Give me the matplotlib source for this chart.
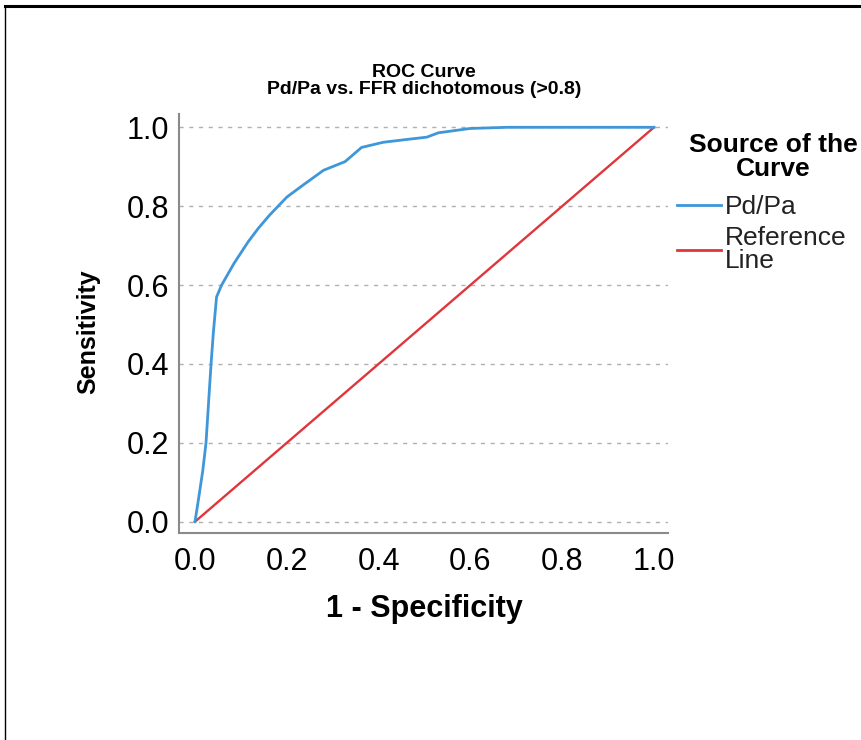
import matplotlib
matplotlib.use("Agg")
import matplotlib.pyplot as plt
from matplotlib.lines import Line2D

# ---- data ----
fpr = [0.0, 0.008, 0.017, 0.024, 0.030, 0.035, 0.040, 0.047, 0.058, 0.085,
       0.116, 0.138, 0.163, 0.200, 0.236, 0.280, 0.327, 0.363, 0.410, 0.460,
       0.505, 0.530, 0.599, 0.680, 1.0]
tpr = [0.0, 0.06, 0.13, 0.20, 0.31, 0.40, 0.48, 0.570, 0.600, 0.655,
       0.710, 0.744, 0.778, 0.823, 0.854, 0.891, 0.913, 0.949, 0.962, 0.969,
       0.975, 0.986, 0.997, 1.0, 1.0]
ref_x = [0.0, 1.0]
ref_y = [0.0, 1.0]
ticks = [0.0, 0.2, 0.4, 0.6, 0.8, 1.0]
tick_labels = ["0.0", "0.2", "0.4", "0.6", "0.8", "1.0"]
series_names = ["Pd/Pa", "Reference\nLine"]
title_text = "ROC Curve\nPd/Pa vs. FFR dichotomous (>0.8)"
legend_title = "Source of the\nCurve"

blue = "#3f96d8"
red = "#e0353a"
sans = ["Liberation Sans", "DejaVu Sans"]

fig = plt.figure(figsize=(8.62, 7.40), dpi=100)
ax = fig.add_axes([179/862, 1-533/740, (668-179)/862, (533-114)/740])

ax.plot(fpr, tpr, color=blue, lw=2.0, solid_joinstyle="round", zorder=3)
ax.plot(ref_x, ref_y, color=red, lw=1.7, zorder=2)

ax.set_xlim((179-195)/459, (668-195)/459)
ax.set_ylim((521.7-533)/394.4, (521.7-114)/394.4)
ax.set_xticks(ticks)
ax.set_xticklabels(tick_labels)
ax.set_yticks(ticks)
ax.set_yticklabels(tick_labels)
for lab in ax.get_xticklabels() + ax.get_yticklabels():
    lab.set_family(sans)
    lab.set_fontsize(22)
ax.tick_params(axis="both", length=0, colors="#000000")
ax.tick_params(axis="x", pad=10)
ax.tick_params(axis="y", pad=7)

ax.yaxis.grid(True, linestyle=(0, (3, 4)), color="#b0b0b0", lw=1.0)
ax.set_axisbelow(True)
for s in ["top", "right"]:
    ax.spines[s].set_visible(False)
for s in ["left", "bottom"]:
    ax.spines[s].set_color("#8a8a8a")
    ax.spines[s].set_linewidth(1.5)

fig.text(424/862, 1-81/740, title_text, ha="center", va="center",
         fontsize=14, fontweight="bold", family=sans, linespacing=1.02)
fig.text(88/862, 1-332/740, "Sensitivity", rotation=90, ha="center",
         va="center", fontsize=18, fontweight="bold", family=sans)
fig.text(424/862, 1-609/740, "1 - Specificity", ha="center", va="center",
         fontsize=22, fontweight="bold", family=sans)

# legend title
fig.text(773/862, 1-157/740, legend_title, ha="center", va="center",
         fontsize=19, fontweight="bold", family=sans, linespacing=0.95)

handles = [Line2D([], [], color=blue, lw=2.0), Line2D([], [], color=red, lw=2.0)]
leg = fig.legend(handles, series_names, loc="upper left",
                 bbox_to_anchor=(677/862, 1-195/740), frameon=False,
                 prop={"family": sans, "size": 19},
                 handlelength=1.65, handletextpad=0.15, labelspacing=0.28,
                 borderaxespad=0, borderpad=0)
for t in leg.get_texts():
    t.set_linespacing(0.95)
    t.set_color("#222222")

# outer frame
fig.add_artist(Line2D([5/862, 1], [1-6/740, 1-6/740], color="black", lw=2.2,
                      transform=fig.transFigure))
fig.add_artist(Line2D([5/862, 5/862], [0, 1-6/740], color="black", lw=1.0,
                      transform=fig.transFigure))

fig.savefig("out.png", dpi=100)
